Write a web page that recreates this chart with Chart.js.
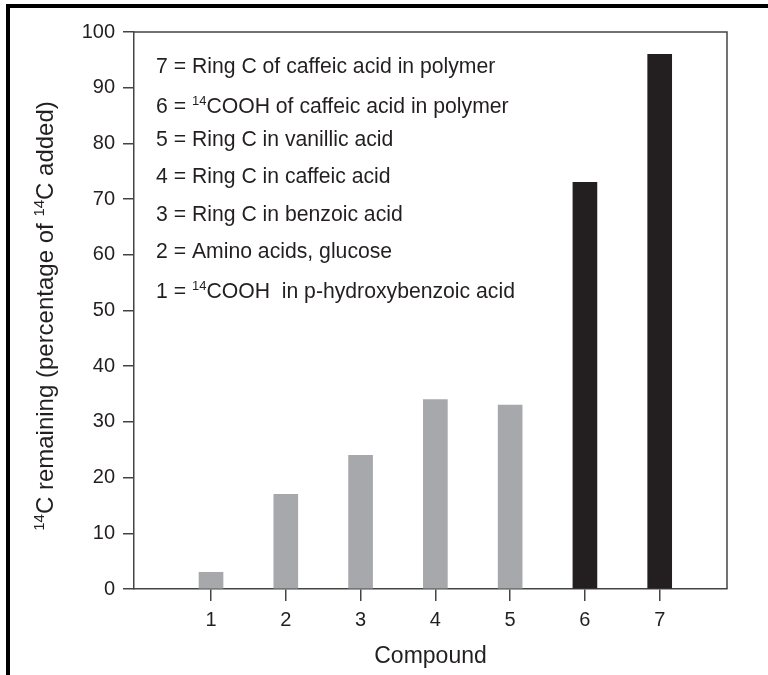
<!DOCTYPE html>
<html>
<head>
<meta charset="utf-8">
<script src="https://cdn.jsdelivr.net/npm/chart.js@4.4.0/dist/chart.umd.min.js"></script>
<style>
  html, body { margin: 0; padding: 0; background: #fff; }
  #wrap { width: 768px; height: 675px; position: relative; }
</style>
</head>
<body>
<div id="wrap"><canvas id="compoundChart"></canvas></div>
<script>
// values
var compounds = [1, 2, 3, 4, 5, 6, 7];
var remaining = [3, 17, 24, 34, 33, 73, 96];
var inPolymer = [false, false, false, false, false, true, true];
var yTicks = [0, 10, 20, 30, 40, 50, 60, 70, 80, 90, 100];

// {..} = superscript
var legendLines = [
  "7 = Ring C of caffeic acid in polymer",
  "6 = {14}COOH of caffeic acid in polymer",
  "5 = Ring C in vanillic acid",
  "4 = Ring C in caffeic acid",
  "3 = Ring C in benzoic acid",
  "2 = Amino acids, glucose",
  "1 = {14}COOH  in p-hydroxybenzoic acid"
];
var yTitle = "{14}C remaining (percentage of {14}C added)";
var xTitle = "Compound";

var FONT = "'Liberation Sans', Arial, Helvetica, sans-serif";
var INK = "#231f20";
var LINE = "#444";

function richParts(text) {
  var parts = [];
  var re = /\{([^}]*)\}/g, last = 0, m;
  while ((m = re.exec(text)) !== null) {
    if (m.index > last) parts.push({t: text.slice(last, m.index), sup: false});
    parts.push({t: m[1], sup: true});
    last = re.lastIndex;
  }
  if (last < text.length) parts.push({t: text.slice(last), sup: false});
  return parts;
}

// draws text with superscripts, baseline at y, returns width
function drawRich(ctx, text, x, y, size, align) {
  var parts = richParts(text);
  var supSize = Math.round(size * 0.62);
  var total = 0;
  parts.forEach(function(p) {
    ctx.font = (p.sup ? supSize : size) + "px " + FONT;
    p.w = ctx.measureText(p.t).width;
    total += p.w;
  });
  var cx = align === "center" ? x - total / 2 : x;
  ctx.textAlign = "left";
  ctx.textBaseline = "alphabetic";
  parts.forEach(function(p) {
    ctx.font = (p.sup ? supSize : size) + "px " + FONT;
    ctx.fillText(p.t, cx, p.sup ? y - size * 0.38 : y);
    cx += p.w;
  });
  return total;
}

var decorPlugin = {
  id: "decor",
  beforeDraw: function(chart) {
    var ctx = chart.ctx;
    ctx.save();
    ctx.fillStyle = "#fff";
    ctx.fillRect(0, 0, chart.width, chart.height);
    // figure frame (top + left)
    ctx.fillStyle = "#000";
    ctx.fillRect(6, 4, chart.width - 6, 4);
    ctx.fillRect(6, 4, 4, chart.height - 4);
    ctx.restore();
  },
  afterDraw: function(chart) {
    var ctx = chart.ctx, a = chart.chartArea;
    ctx.save();
    // top and right edges of the plot box
    ctx.strokeStyle = LINE;
    ctx.lineWidth = 1.5;
    ctx.beginPath();
    ctx.moveTo(a.left, a.top);
    ctx.lineTo(a.right, a.top);
    ctx.lineTo(a.right, a.bottom);
    ctx.stroke();

    ctx.fillStyle = INK;
    // key inside the plot
    var baselines = [73, 113, 146, 183, 221, 258, 298];
    legendLines.forEach(function(line, i) {
      drawRich(ctx, line, 156, baselines[i], 21.2, "left");
    });

    // x title
    drawRich(ctx, xTitle, (a.left + a.right) / 2, 663, 23, "center");

    // y title, rotated
    ctx.save();
    ctx.translate(53, 316);
    ctx.rotate(-Math.PI / 2);
    drawRich(ctx, yTitle, 0, 0, 24, "center");
    ctx.restore();
    ctx.restore();
  }
};

var chart = new Chart("compoundChart", {
  type: "bar",
  data: {
    datasets: [{
      data: compounds.map(function(c, i) { return {x: c, y: remaining[i]}; }),
      backgroundColor: inPolymer.map(function(p) { return p ? "#231f20" : "#a7a8ab"; }),
      borderWidth: 0,
      barThickness: 24
    }]
  },
  options: {
    responsive: true,
    maintainAspectRatio: false,
    animation: false,
    layout: {padding: {top: 32, right: 41, left: 0, bottom: 0}},
    plugins: {
      legend: {display: false},
      tooltip: {enabled: false}
    },
    scales: {
      x: {
        type: "linear",
        min: -0.03,
        max: 7.9,
        offset: false,
        afterBuildTicks: function(scale) {
          scale.ticks = compounds.map(function(v) { return {value: v}; });
        },
        afterFit: function(scale) { scale.height = 86; },
        ticks: {
          color: INK,
          font: {family: FONT, size: 20},
          padding: 7,
          maxRotation: 0,
          callback: function(v) { return String(v); }
        },
        grid: {offset: false, drawOnChartArea: false, drawTicks: true, tickLength: 12, color: LINE, lineWidth: 1.5},
        border: {display: true, color: LINE, width: 1.5}
      },
      y: {
        min: 0,
        max: 100,
        afterBuildTicks: function(scale) {
          scale.ticks = yTicks.map(function(v) { return {value: v}; });
        },
        afterFit: function(scale) { scale.width = 134; },
        ticks: {
          color: INK,
          font: {family: FONT, size: 20},
          padding: 8
        },
        grid: {drawOnChartArea: false, drawTicks: true, tickLength: 11, color: LINE, lineWidth: 1.5},
        border: {display: true, color: LINE, width: 1.5}
      }
    }
  },
  plugins: [decorPlugin]
});
</script>
</body>
</html>
